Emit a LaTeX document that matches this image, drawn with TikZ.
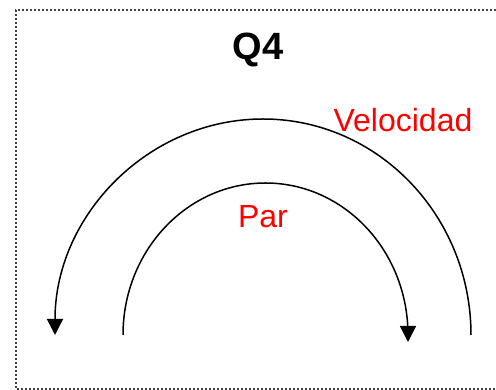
\documentclass[tikz,border=0pt]{standalone}
\usepackage{fontspec}
\setmainfont{Liberation Sans}
\usetikzlibrary{arrows.meta}

\begin{document}
\begin{tikzpicture}[
    x=1pt, y=1pt,
    frame/.style={draw=black!75, line width=1.2pt, dash pattern=on 1.6pt off 2.4pt},
    title/.style={font=\fontsize{38}{40}\selectfont\bfseries, anchor=base, inner sep=0pt},
    lbl/.style={text=red, font=\fontsize{32}{34}\selectfont, anchor=base, inner sep=0pt},
    arcline/.style={line width=1.5pt},
    arctip/.style={arcline, -{Triangle[length=16pt, width=16pt]}}
  ]

  \useasboundingbox (0,0) rectangle (496,390);

  % ========= dotted frame (open on the right) =========
  \draw[frame] (496,380) -- (16,380) -- (16,1) -- (496,1);

  % ========= title and labels =========
  \node[title] (q4)  at (258,330) {Q4};
  \node[lbl]   (vel) at (403,258) {Velocidad};
  \node[lbl]   (par) at (263,162) {Par};

  % ========= arcs =========
  \coordinate (outerR) at (471,55);
  \coordinate (innerL) at (123,55);

  \draw[arctip] (outerR) arc[start angle=0, end angle=180, x radius=208pt, y radius=216pt];
  \draw[arctip] (innerL) arc[start angle=180, end angle=0, x radius=142.5pt, y radius=152pt] -- ++(0,-7);

\end{tikzpicture}
\end{document}
